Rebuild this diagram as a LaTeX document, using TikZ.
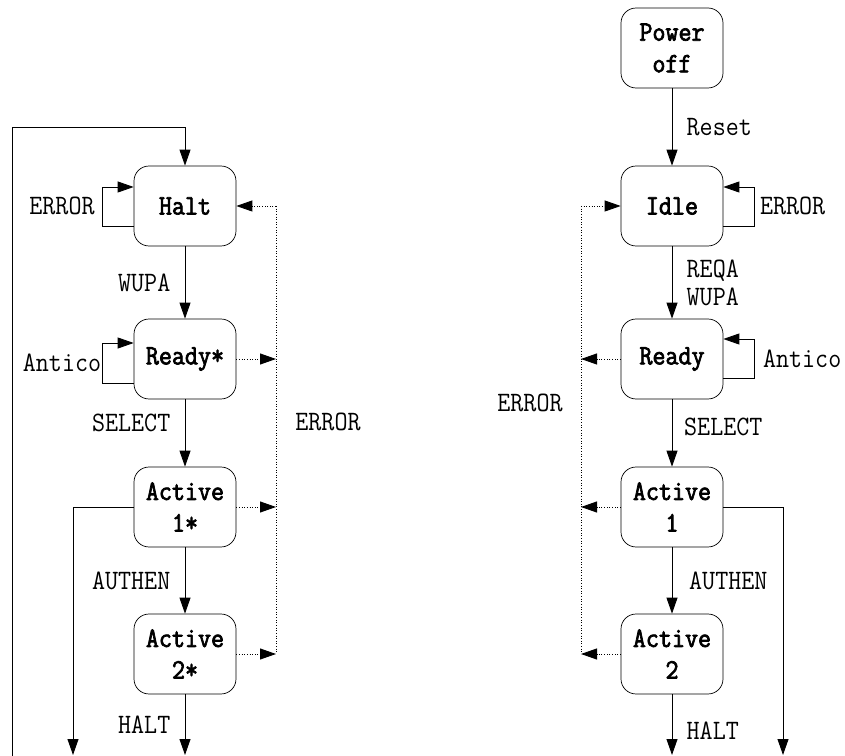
\documentclass[tikz,border=0pt]{standalone}
\usepackage{fontspec}
\newfontfamily\boxfont[FakeStretch=0.9, FakeBold=2.5]{Latin Modern Mono}
\newfontfamily\lblfont[FakeStretch=0.9]{Latin Modern Mono}
\usepackage{tikz}
\usetikzlibrary{positioning}
\usetikzlibrary{arrows.meta}

\tikzset{
	stbox/.style={draw, rounded corners=0.3cm, minimum width=2.04cm, minimum height=1.6cm, align=center, inner sep=1pt, font=\boxfont\fontsize{16}{18}\selectfont},
	lbl/.style={font=\lblfont\fontsize{16}{16}\selectfont, inner sep=1pt, align=left},
	flow/.style={line width=0.5pt, -{Triangle[length=0.32cm,width=0.22cm]}},
	err/.style={flow, densely dotted},
}

\begin{document}
\begin{tikzpicture}[x=0.02cm, y=-0.02cm]
				\useasboundingbox (0,0) rectangle (845,756);
				
				% left chain
				\node[stbox] (halt) at (185,206) {Halt};
				\node[stbox] (readyS) at (185,359) {Ready*};
				\node[stbox] (actOneS) at (185,507) {Active\\1*};
				\node[stbox] (actTwoS) at (185,654) {Active\\2*};
				
				\coordinate (inL) at (12,756);
				\coordinate (outA) at (73,755);
				\coordinate (outB) at (185,755);
				\coordinate (busL) at (276,206);
				
				\draw[flow] (inL) -- (12,127) -| (halt.north);
				\draw[flow] (halt) -- (readyS) node[midway,left=0.25cm,lbl] () {WUPA};
				\draw[flow] (readyS) -- (actOneS) node[midway,left=0.25cm,lbl,yshift=0.2cm] () {SELECT};
				\draw[flow] (actOneS) -- (actTwoS) node[midway,left=0.25cm,lbl] () {AUTHEN};
				\draw[flow] (actTwoS) -- (outB) node[midway,left=0.25cm,lbl] () {HALT};
				\draw[flow] (actOneS.west) -| (outA);
				
				\draw[flow] ([yshift=-0.4cm]halt.west) -- ++(-31,0) |- ([yshift=0.38cm]halt.west);
				\node[lbl] (errHalt) at (62,206) {ERROR};
				\draw[flow] ([yshift=-0.48cm]readyS.west) -- ++(-31,0) |- ([yshift=0.32cm]readyS.west);
				\node[lbl] (antS) at (62,363) {Antico};
				
				\draw[densely dotted, line width=0.5pt] (busL) -- (actTwoS.east -| busL);
				\draw[err] (busL) -- (halt.east);
				\draw[err] (readyS.east) -- (readyS.east -| busL);
				\draw[err] (actOneS.east) -- (actOneS.east -| busL);
				\draw[err] (actTwoS.east) -- (actTwoS.east -| busL);
				\node[lbl] (errL) at (328,422) {ERROR};
				
				% right chain
				\node[stbox] (poweroff) at (672,48) {Power\\off};
				\node[stbox] (idle) at (672,206) {Idle};
				\node[stbox] (ready) at (672,359) {Ready};
				\node[stbox] (actOne) at (672,507) {Active\\1};
				\node[stbox] (actTwo) at (672,654) {Active\\2};
				
				\coordinate (outC) at (783,755);
				\coordinate (outD) at (672,755);
				\coordinate (busR) at (581,206);
				
				\draw[flow] (poweroff) -- (idle) node[midway,right=0.25cm,lbl] () {Reset};
				\draw[flow] (idle) -- (ready) node[midway,right=0.25cm,lbl] () {REQA\\WUPA};
				\draw[flow] (ready) -- (actOne) node[midway,right=0.2cm,lbl,yshift=0.12cm] () {SELECT};
				\draw[flow] (actOne) -- (actTwo) node[midway,right=0.3cm,lbl] () {AUTHEN};
				\draw[flow] (actTwo) -- (outD) node[midway,right=0.25cm,lbl,yshift=-0.12cm] () {HALT};
				\draw[flow] (actOne.east) -| (outC);
				
				\draw[flow] ([yshift=-0.4cm]idle.east) -- ++(31,0) |- ([yshift=0.38cm]idle.east);
				\node[lbl, anchor=west] (errIdle) at (758,206) {ERROR};
				\draw[flow] ([yshift=-0.38cm]ready.east) -- ++(31,0) |- ([yshift=0.4cm]ready.east);
				\node[lbl, anchor=west] (antR) at (761,359) {Antico};
				
				\draw[densely dotted, line width=0.5pt] (busR) -- (actTwo.west -| busR);
				\draw[err] (busR) -- (idle.west);
				\draw[err] (ready.west) -- (ready.west -| busR);
				\draw[err] (actOne.west) -- (actOne.west -| busR);
				\draw[err] (actTwo.west) -- (actTwo.west -| busR);
				\node[lbl] (errR) at (530,403) {ERROR};
\end{tikzpicture}
\end{document}
